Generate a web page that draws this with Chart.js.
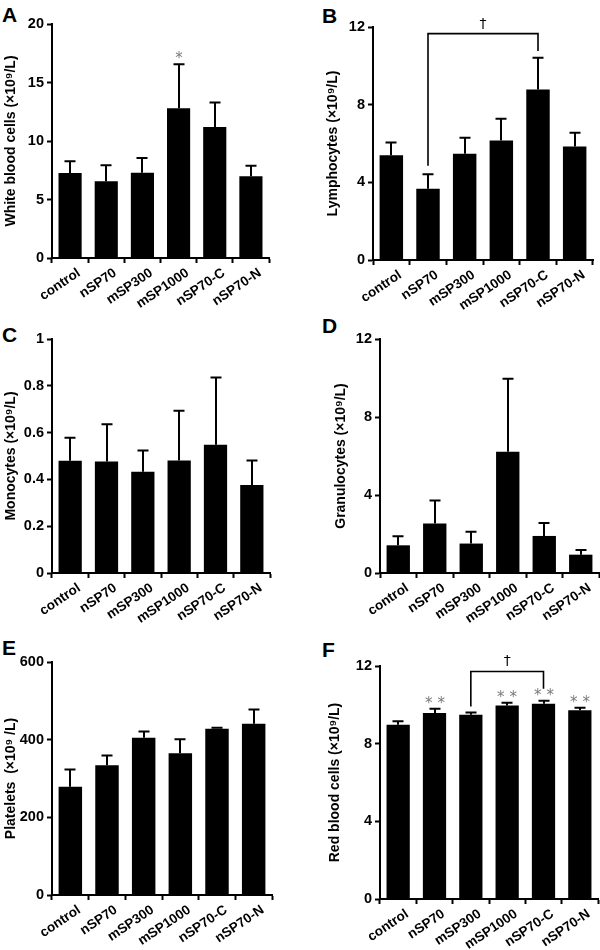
<!DOCTYPE html>
<html><head><meta charset="utf-8">
<script src="https://cdn.jsdelivr.net/npm/chart.js@4"></script>
<style>
body{margin:0;background:#fff;width:600px;height:950px;position:relative;overflow:hidden;font-family:"Liberation Sans",Arial,sans-serif}
.pl{position:absolute;font-weight:bold;font-size:21px;line-height:21px;color:#000}
canvas{position:absolute}
</style></head><body>
<div class="pl" style="left:2px;top:4px">A</div>
<div class="pl" style="left:322px;top:5px">B</div>
<div class="pl" style="left:2px;top:324px">C</div>
<div class="pl" style="left:322px;top:315px">D</div>
<div class="pl" style="left:2px;top:637px">E</div>
<div class="pl" style="left:322px;top:639px">F</div>
<canvas id="cA" width="300" height="310" style="left:0;top:0"></canvas>
<canvas id="cB" width="300" height="310" style="left:300px;top:0"></canvas>
<canvas id="cC" width="300" height="320" style="left:0;top:310px"></canvas>
<canvas id="cD" width="300" height="320" style="left:300px;top:310px"></canvas>
<canvas id="cE" width="300" height="320" style="left:0;top:630px"></canvas>
<canvas id="cF" width="300" height="320" style="left:300px;top:630px"></canvas>
<script>
// ---- data ----
const categories = ['control','nSP70','mSP300','mSP1000','nSP70-C','nSP70-N'];

const wbcMean = [7.26, 6.55, 7.29, 12.8, 11.2, 6.98];
const wbcSD   = [1.0, 1.37, 1.26, 3.75, 2.1, 0.91];
const wbcMarks = ['', '', '', '*', '', ''];
const wbcTicks = [0, 5, 10, 15, 20];

const lymMean = [5.40, 3.67, 5.47, 6.16, 8.78, 5.85];
const lymSD   = [0.65, 0.75, 0.82, 1.11, 1.63, 0.70];
const lymTicks = [0, 4, 8, 12];
const lymBracket = {from: 1, to: 4, top: 11.66, leftEnd: 4.85, rightEnd: 10.77, label: '†'};

const monoMean = [0.48, 0.476, 0.433, 0.481, 0.548, 0.376];
const monoSD   = [0.098, 0.16, 0.09, 0.212, 0.288, 0.105];
const monoTicks = [0, 0.2, 0.4, 0.6, 0.8, 1];

const granMean = [1.42, 2.54, 1.51, 6.22, 1.90, 0.94];
const granSD   = [0.46, 1.18, 0.60, 3.74, 0.67, 0.24];
const granTicks = [0, 4, 8, 12];

const pltMean = [279, 334, 405, 365, 428, 441];
const pltSD   = [44, 25, 16, 36, 3, 37];
const pltTicks = [0, 200, 400, 600];

const rbcMean = [8.98, 9.58, 9.49, 9.97, 10.06, 9.72];
const rbcSD   = [0.17, 0.22, 0.12, 0.14, 0.15, 0.13];
const rbcMarks = ['', '**', '', '**', '**', '**'];
const rbcTicks = [0, 4, 8, 12];
const rbcBracket = {from: 2, to: 4, top: 11.72, leftEnd: 9.92, rightEnd: 10.83, label: '†'};

// ---- rendering ----
const FONT = '"Liberation Sans", Arial, sans-serif';

function overlay(mean, sd, marks, bracket) {
  return {
    id: 'overlay',
    afterDatasetsDraw(chart) {
      const ctx = chart.ctx, xs = chart.scales.x, ys = chart.scales.y;
      ctx.save();
      ctx.strokeStyle = '#000';
      ctx.lineWidth = 2;
      mean.forEach((m, i) => {
        const cx = Math.round(xs.getPixelForValue(i));
        const y0 = ys.getPixelForValue(m);
        const y1 = ys.getPixelForValue(m + sd[i]);
        ctx.beginPath();
        ctx.moveTo(cx, y0); ctx.lineTo(cx, y1);
        ctx.moveTo(cx - 5.5, y1); ctx.lineTo(cx + 5.5, y1);
        ctx.stroke();
        if (marks && marks[i]) {
          ctx.fillStyle = '#7a7a7a';
          ctx.font = '15px "DejaVu Sans", sans-serif';
          ctx.textAlign = 'center';
          ctx.textBaseline = 'alphabetic';
          ctx.fillText(marks[i].split('').join(' '), cx, y1 - 1);
        }
      });
      if (bracket) {
        const xa = xs.getPixelForValue(bracket.from), xb = xs.getPixelForValue(bracket.to);
        const yt = ys.getPixelForValue(bracket.top);
        ctx.lineWidth = 1.6;
        ctx.beginPath();
        ctx.moveTo(xa, ys.getPixelForValue(bracket.leftEnd));
        ctx.lineTo(xa, yt); ctx.lineTo(xb, yt);
        ctx.lineTo(xb, ys.getPixelForValue(bracket.rightEnd));
        ctx.stroke();
        ctx.fillStyle = '#000';
        ctx.font = '14px "DejaVu Sans", sans-serif';
        ctx.textAlign = 'center';
        ctx.textBaseline = 'alphabetic';
        ctx.fillText(bracket.label, (xa + xb) / 2, yt - 6);
      }
      ctx.restore();
    }
  };
}

function makeChart(id, cfg) {
  const fmt = v => String(+Number(v).toFixed(2));
  new Chart(document.getElementById(id), {
    type: 'bar',
    data: {
      labels: categories,
      datasets: [{data: cfg.mean, backgroundColor: '#000', borderWidth: 0,
                  barPercentage: 0.64, categoryPercentage: 1}]
    },
    plugins: [overlay(cfg.mean, cfg.sd, cfg.marks, cfg.bracket)],
    options: {
      responsive: false,
      devicePixelRatio: 1,
      animation: false,
      events: [],
      layout: {padding: {top: cfg.padTop, left: cfg.padLeft, right: cfg.padRight, bottom: 0}},
      plugins: {legend: {display: false}, tooltip: {enabled: false}},
      scales: {
        x: {
          grid: {display: true, offset: true, drawOnChartArea: false, drawTicks: true,
                 tickLength: 5, tickWidth: 2, color: '#000'},
          border: {display: true, color: '#000', width: 2},
          ticks: {color: '#000', font: {family: FONT, size: 13.5, weight: 'bold'},
                  minRotation: 34, maxRotation: 34, autoSkip: false, padding: 2, labelOffset: 9},
          afterFit(s) { s.height = cfg.xHeight; }
        },
        y: {
          min: 0, max: cfg.ticks[cfg.ticks.length - 1],
          afterBuildTicks(s) { s.ticks = cfg.ticks.map(v => ({value: v})); },
          grid: {display: true, drawOnChartArea: false, drawTicks: true,
                 tickLength: 5, tickWidth: 2, color: '#000'},
          border: {display: true, color: '#000', width: 2},
          ticks: {color: '#000', font: {family: FONT, size: 14.5, weight: 'bold'}, padding: 3,
                  callback: fmt},
          title: {display: true, text: cfg.title, color: '#000',
                  font: {family: FONT, size: 14, weight: 'bold'}, padding: {top: 3, bottom: 3}},
          afterFit(s) { s.width = cfg.yWidth; }
        }
      }
    }
  });
}

makeChart('cA', {mean: wbcMean, sd: wbcSD, marks: wbcMarks, ticks: wbcTicks,
  title: 'White blood cells (×10⁹/L)', padTop: 24, padLeft: 0, padRight: 31, yWidth: 52, xHeight: 52});
makeChart('cB', {mean: lymMean, sd: lymSD, bracket: lymBracket, ticks: lymTicks,
  title: 'Lymphocytes (×10⁹/L)', padTop: 27, padLeft: 22, padRight: 7, yWidth: 51, xHeight: 50});
makeChart('cC', {mean: monoMean, sd: monoSD, ticks: monoTicks,
  title: 'Monocytes (×10⁹/L)', padTop: 29, padLeft: 0, padRight: 30, yWidth: 52, xHeight: 57});
makeChart('cD', {mean: granMean, sd: granSD, ticks: granTicks,
  title: 'Granulocytes (×10⁹/L)', padTop: 29, padLeft: 30, padRight: 1, yWidth: 50, xHeight: 57});
makeChart('cE', {mean: pltMean, sd: pltSD, ticks: pltTicks,
  title: 'Platelets  (×10⁹ /L)', padTop: 32, padLeft: 0, padRight: 28, yWidth: 52, xHeight: 55});
makeChart('cF', {mean: rbcMean, sd: rbcSD, marks: rbcMarks, bracket: rbcBracket, ticks: rbcTicks,
  title: 'Red blood cells (×10⁹/L)', padTop: 36, padLeft: 24, padRight: 2, yWidth: 56, xHeight: 51});
</script>
</body></html>
